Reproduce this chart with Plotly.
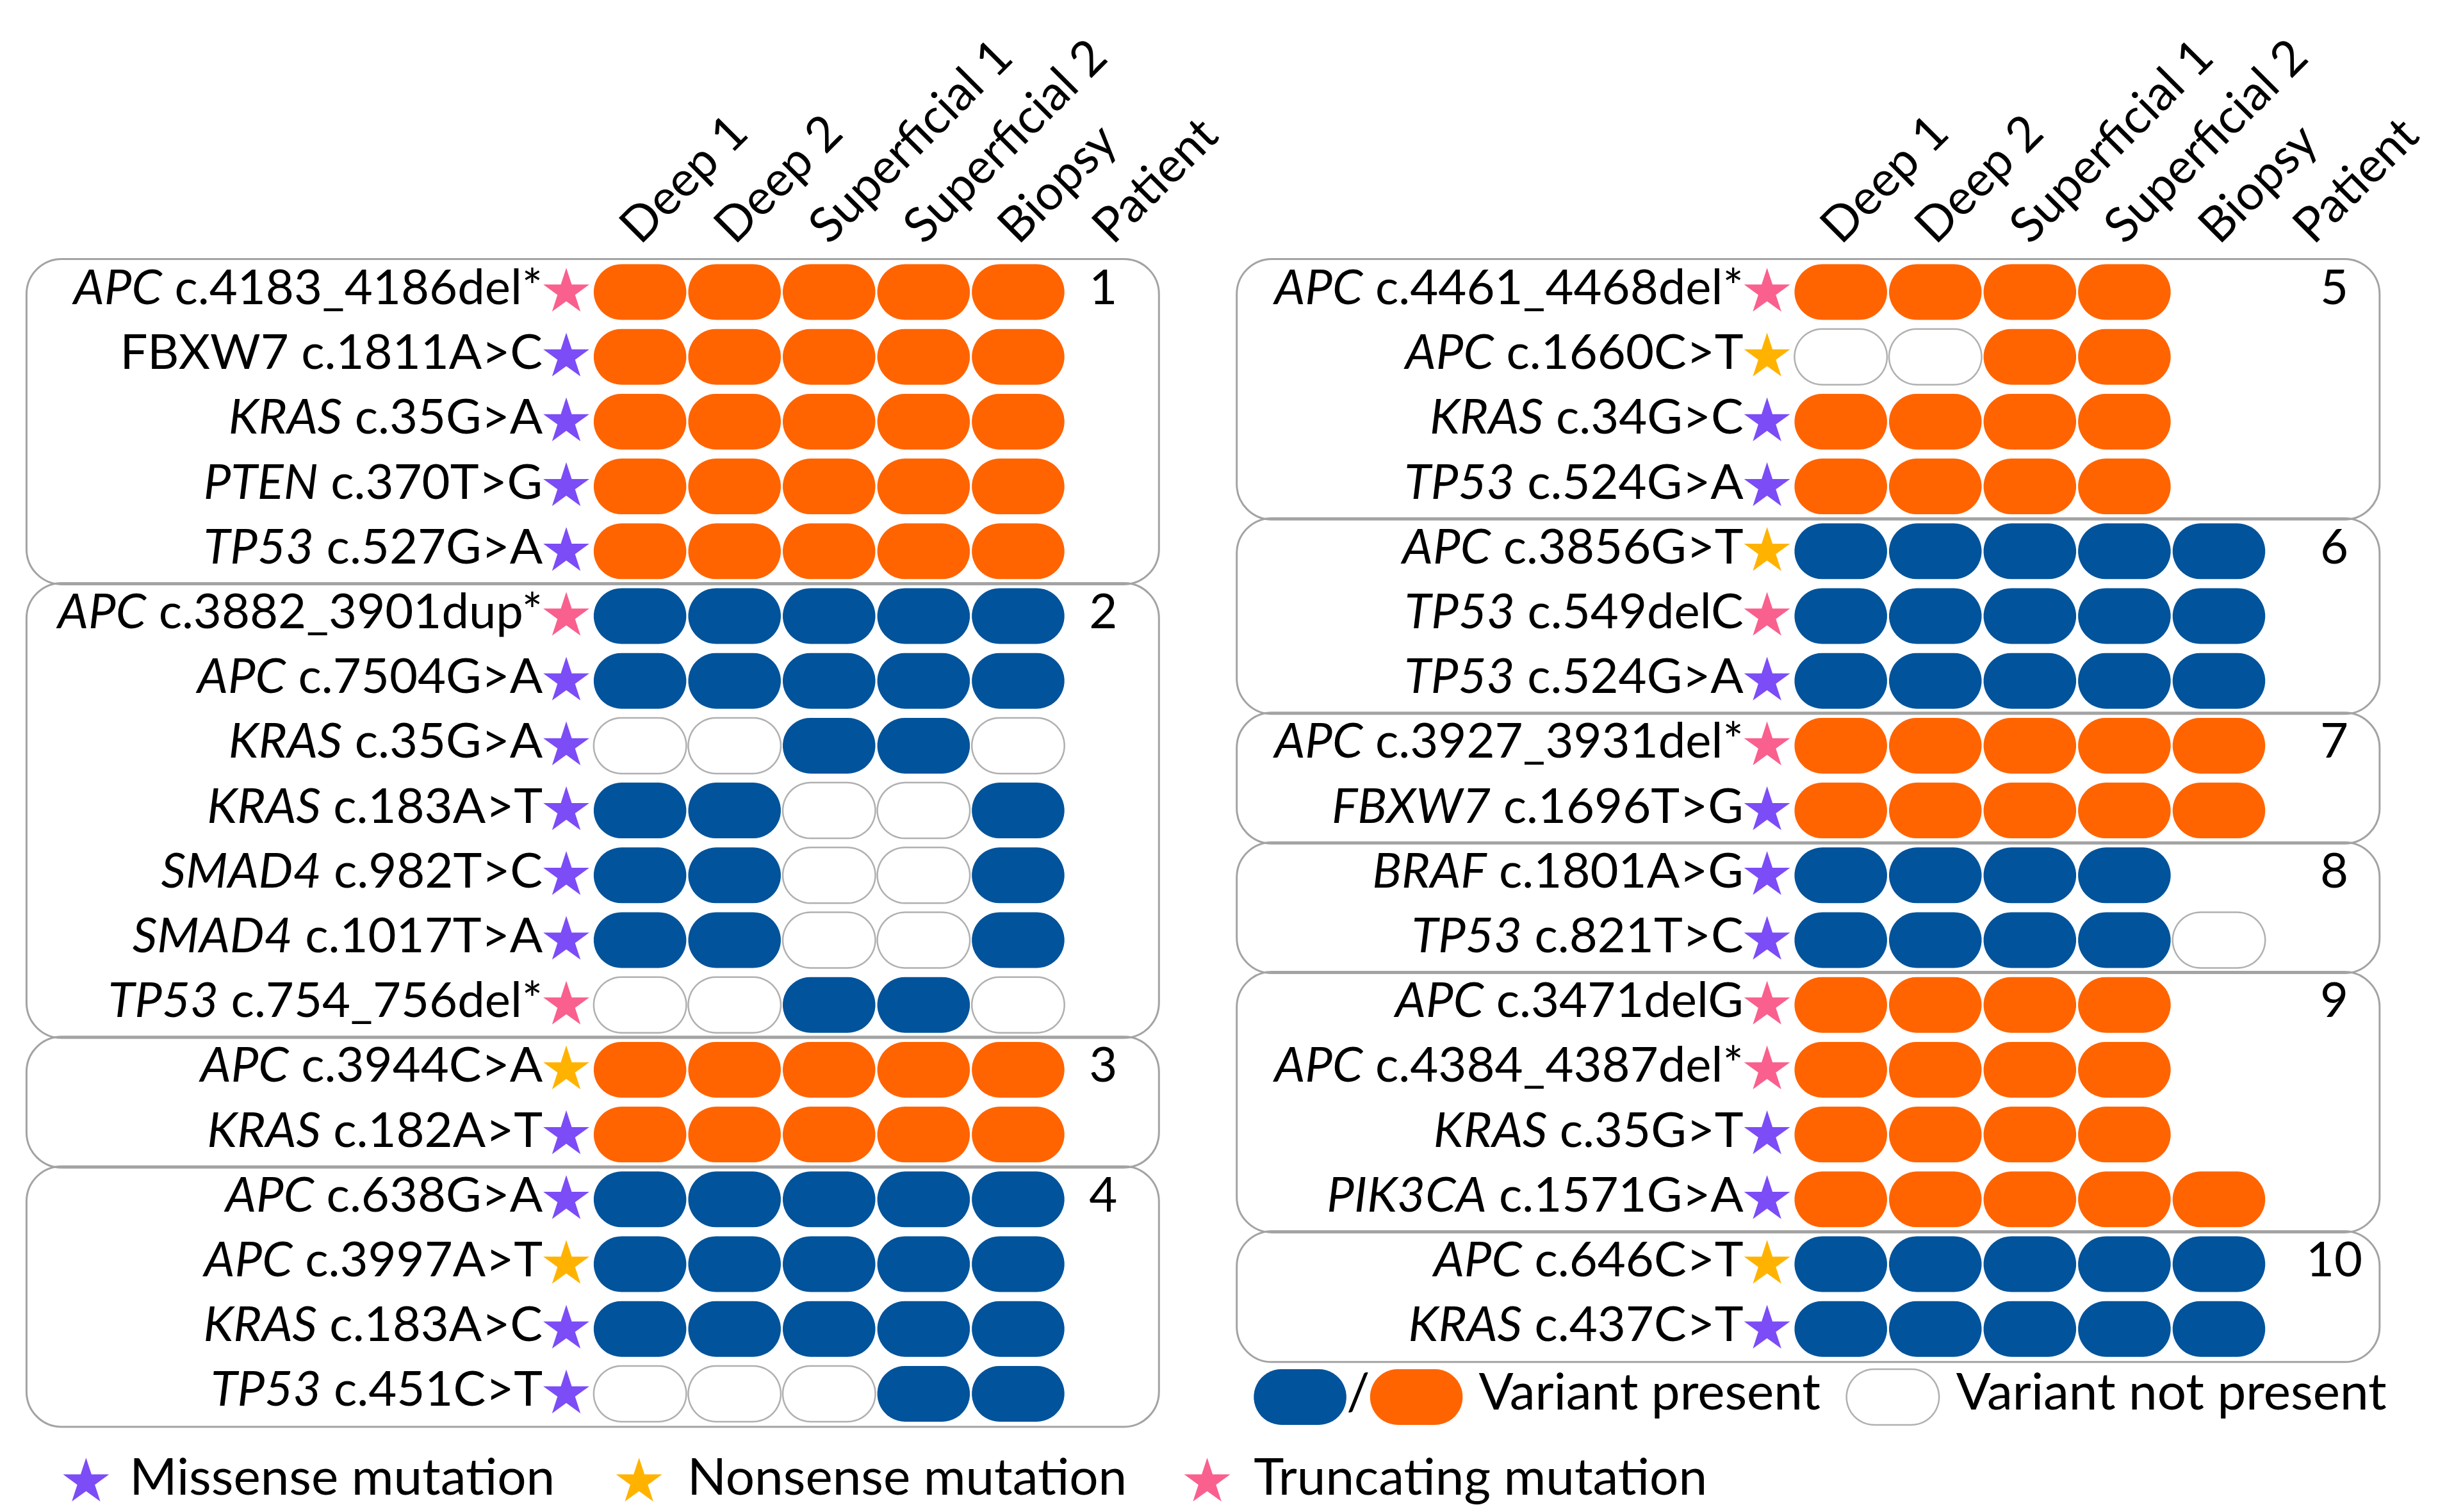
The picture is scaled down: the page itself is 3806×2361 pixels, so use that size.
import numpy as np
import plotly.graph_objects as go

# ---------------- data ----------------
COLUMNS = ["Deep 1", "Deep 2", "Superficial 1", "Superficial 2", "Biopsy", "Patient"]

left_gene = ["APC", "FBXW7", "KRAS", "PTEN", "TP53",
             "APC", "APC", "KRAS", "KRAS", "SMAD4", "SMAD4", "TP53",
             "APC", "KRAS",
             "APC", "APC", "KRAS", "TP53"]
left_change = ["c.4183_4186del*", "c.1811A>C", "c.35G>A", "c.370T>G", "c.527G>A",
               "c.3882_3901dup*", "c.7504G>A", "c.35G>A", "c.183A>T", "c.982T>C", "c.1017T>A", "c.754_756del*",
               "c.3944C>A", "c.182A>T",
               "c.638G>A", "c.3997A>T", "c.183A>C", "c.451C>T"]
left_italic = [True, False, True, True, True,
               True, True, True, True, True, True, True,
               True, True,
               True, True, True, True]
left_type = ["Truncating", "Missense", "Missense", "Missense", "Missense",
             "Truncating", "Missense", "Missense", "Missense", "Missense", "Missense", "Truncating",
             "Nonsense", "Missense",
             "Missense", "Nonsense", "Missense", "Missense"]
# P = variant present, N = variant not present, - = no sample
left_calls = ["PPPPP", "PPPPP", "PPPPP", "PPPPP", "PPPPP",
              "PPPPP", "PPPPP", "NNPPN", "PPNNP", "PPNNP", "PPNNP", "NNPPN",
              "PPPPP", "PPPPP",
              "PPPPP", "PPPPP", "PPPPP", "NNNPP"]
left_patient = [1, 1, 1, 1, 1,
                2, 2, 2, 2, 2, 2, 2,
                3, 3,
                4, 4, 4, 4]

right_gene = ["APC", "APC", "KRAS", "TP53",
              "APC", "TP53", "TP53",
              "APC", "FBXW7",
              "BRAF", "TP53",
              "APC", "APC", "KRAS", "PIK3CA",
              "APC", "KRAS"]
right_change = ["c.4461_4468del*", "c.1660C>T", "c.34G>C", "c.524G>A",
                "c.3856G>T", "c.549delC", "c.524G>A",
                "c.3927_3931del*", "c.1696T>G",
                "c.1801A>G", "c.821T>C",
                "c.3471delG", "c.4384_4387del*", "c.35G>T", "c.1571G>A",
                "c.646C>T", "c.437C>T"]
right_italic = [True] * 17
right_type = ["Truncating", "Nonsense", "Missense", "Missense",
              "Nonsense", "Truncating", "Missense",
              "Truncating", "Missense",
              "Missense", "Missense",
              "Truncating", "Truncating", "Missense", "Missense",
              "Nonsense", "Missense"]
right_calls = ["PPPP-", "NNPP-", "PPPP-", "PPPP-",
               "PPPPP", "PPPPP", "PPPPP",
               "PPPPP", "PPPPP",
               "PPPP-", "PPPPN",
               "PPPP-", "PPPP-", "PPPP-", "PPPPP",
               "PPPPP", "PPPPP"]
right_patient = [5, 5, 5, 5,
                 6, 6, 6,
                 7, 7,
                 8, 8,
                 9, 9, 9, 9,
                 10, 10]

MUTATION_TYPES = ["Missense", "Nonsense", "Truncating"]
LEGEND_MUT_TEXT = ["Missense mutation", "Nonsense mutation", "Truncating mutation"]
LEGEND_CALL_TEXT = ["Variant present", "Variant not present"]

# ---------------- style ----------------
ORANGE = "#FF6400"
BLUE = "#01539B"
EMPTY_LINE = "#B0B0B0"
STAR_COL = {"Missense": "#7C4CF6", "Nonsense": "#FFB300", "Truncating": "#F9608E"}
FONT = "Lato"
FS = 76
FS_LEG = 80
BOX_LINE = "#A3A3A3"
STAR_SIZE = 54

W, H = 3806, 2361
ROW0_PX, ROW_PX = 448.0, 101.2
COL_PX = 148.0
PANEL = {
    "left": dict(col0=994.0, dom=(0.0, 0.5), box=(-6.49, 5.49), num_x=4.9),
    "right": dict(col0=2874.0, dom=(0.5, 1.0), box=(-6.39, 5.70), num_x=5.22),
}
STAR_DX = -0.78
LABEL_DX = -1.03
PILL_HW, PILL_HH, PILL_R = 0.49, 0.43, 0.294
HEADER_DX = -0.18


def patient_colour(p):
    return ORANGE if p % 2 == 1 else BLUE


def pill_xy(cx, cy):
    xs, ys = [], []
    for t in np.linspace(-np.pi / 2, np.pi / 2, 24):
        xs.append(cx + PILL_HW - PILL_R + PILL_R * np.cos(t))
        ys.append(cy + PILL_HH * np.sin(t))
    for t in np.linspace(np.pi / 2, 3 * np.pi / 2, 24):
        xs.append(cx - PILL_HW + PILL_R + PILL_R * np.cos(t))
        ys.append(cy + PILL_HH * np.sin(t))
    xs.append(xs[0]); ys.append(ys[0])
    xs.append(None); ys.append(None)
    return xs, ys


def rrect_path(x0, x1, y0, y1, rx, ry):
    k = 0.5523
    return (f"M {x0+rx},{y0} L {x1-rx},{y0} "
            f"C {x1-rx+k*rx},{y0} {x1},{y0+ry-k*ry} {x1},{y0+ry} "
            f"L {x1},{y1-ry} "
            f"C {x1},{y1-ry+k*ry} {x1-rx+k*rx},{y1} {x1-rx},{y1} "
            f"L {x0+rx},{y1} "
            f"C {x0+rx-k*rx},{y1} {x0},{y1-ry+k*ry} {x0},{y1-ry} "
            f"L {x0},{y0+ry} "
            f"C {x0},{y0+ry-k*ry} {x0+rx-k*rx},{y0} {x0+rx},{y0} Z")


fig = go.Figure()
shapes = []


def add_panel(name, genes, changes, italic, types, calls, patients, xa, ya):
    cfg = PANEL[name]
    rows = list(range(len(genes)))
    # group boxes
    groups = []
    for r, p in zip(rows, patients):
        if groups and groups[-1][0] == p:
            groups[-1][2] = r
        else:
            groups.append([p, r, r])
    bx0, bx1 = cfg["box"]
    rx, ry = 55 / COL_PX, 55 / ROW_PX
    for p, r0, r1 in groups:
        shapes.append(dict(type="path", xref=xa, yref=ya, layer="below",
                           path=rrect_path(bx0, bx1, r0 - 0.51, r1 + 0.51, rx, ry),
                           line=dict(color=BOX_LINE, width=3), fillcolor="rgba(0,0,0,0)"))
    # pills
    fills = {ORANGE: ([], []), BLUE: ([], []), "empty": ([], [])}
    for r, call, p in zip(rows, calls, patients):
        for c, s in enumerate(call):
            if s == "-":
                continue
            key = patient_colour(p) if s == "P" else "empty"
            xs, ys = pill_xy(c, r)
            fills[key][0].extend(xs); fills[key][1].extend(ys)
    for key, (xs, ys) in fills.items():
        if not xs:
            continue
        if key == "empty":
            fig.add_trace(go.Scatter(x=xs, y=ys, mode="lines", fill="toself", fillcolor="white",
                                     line=dict(color=EMPTY_LINE, width=2.5), xaxis=xa, yaxis=ya,
                                     hoverinfo="skip", showlegend=False))
        else:
            fig.add_trace(go.Scatter(x=xs, y=ys, mode="lines", fill="toself", fillcolor=key,
                                     line=dict(color=key, width=0), xaxis=xa, yaxis=ya,
                                     hoverinfo="skip", showlegend=False))
    # stars
    for t in MUTATION_TYPES:
        rr = [r for r, ty in zip(rows, types) if ty == t]
        fig.add_trace(go.Scatter(x=[STAR_DX] * len(rr), y=rr, mode="markers",
                                 marker=dict(symbol="star", size=STAR_SIZE, color=STAR_COL[t], line=dict(width=0)),
                                 xaxis=xa, yaxis=ya, hoverinfo="skip", showlegend=False, cliponaxis=False))
    # labels
    labels = [(f"<i>{g}</i> {ch}" if it else f"{g} {ch}") for g, ch, it in zip(genes, changes, italic)]
    fig.add_trace(go.Scatter(x=[LABEL_DX] * len(rows), y=rows, mode="text", text=labels,
                             textposition="middle left", textfont=dict(family=FONT, size=FS, color="black"),
                             xaxis=xa, yaxis=ya, hoverinfo="skip", showlegend=False, cliponaxis=False))
    # patient numbers
    fig.add_trace(go.Scatter(x=[cfg["num_x"]] * len(groups), y=[g[1] for g in groups], mode="text",
                             text=[str(g[0]) for g in groups], textposition="middle center",
                             textfont=dict(family=FONT, size=FS, color="black"),
                             xaxis=xa, yaxis=ya, hoverinfo="skip", showlegend=False, cliponaxis=False))


add_panel("left", left_gene, left_change, left_italic, left_type, left_calls, left_patient, "x", "y")
add_panel("right", right_gene, right_change, right_italic, right_type, right_calls, right_patient, "x2", "y2")

# legend: variant present / not present (right panel, below the groups)
LEG_Y = 17.05
for key, cx in [(BLUE, -5.72), (ORANGE, -4.49)]:
    xs, ys = pill_xy(cx, LEG_Y)
    fig.add_trace(go.Scatter(x=xs, y=ys, mode="lines", fill="toself", fillcolor=key,
                             line=dict(color=key, width=0), xaxis="x2", yaxis="y2",
                             hoverinfo="skip", showlegend=False))
xs, ys = pill_xy(0.55, LEG_Y)
fig.add_trace(go.Scatter(x=xs, y=ys, mode="lines", fill="toself", fillcolor="white",
                         line=dict(color=EMPTY_LINE, width=2.5), xaxis="x2", yaxis="y2",
                         hoverinfo="skip", showlegend=False))
fig.add_trace(go.Scatter(x=[-5.105, -3.83, 1.22], y=[LEG_Y] * 3, mode="text",
                         text=["/", LEGEND_CALL_TEXT[0], LEGEND_CALL_TEXT[1]],
                         textposition=["middle center", "middle right", "middle right"],
                         textfont=dict(family=FONT, size=FS_LEG, color="black"),
                         xaxis="x2", yaxis="y2", hoverinfo="skip", showlegend=False, cliponaxis=False))

# legend: mutation types (bottom row)
MUT_Y = 18.36
# (star x, text x, star axis, text axis) per legend item
mut_leg_pos = [(-5.86, -5.40, "x", "x"), (-0.01, 0.50, "x", "x"), (6.0, -6.21, "x", "x2")]
for t, label, (sx, tx, sa, ta) in zip(MUTATION_TYPES, LEGEND_MUT_TEXT, mut_leg_pos):
    fig.add_trace(go.Scatter(x=[sx], y=[MUT_Y], mode="markers",
                             marker=dict(symbol="star", size=STAR_SIZE, color=STAR_COL[t], line=dict(width=0)),
                             xaxis=sa, yaxis="y" if sa == "x" else "y2",
                             hoverinfo="skip", showlegend=False, cliponaxis=False))
    fig.add_trace(go.Scatter(x=[tx], y=[MUT_Y], mode="text", text=[label],
                             textposition="middle right", textfont=dict(family=FONT, size=FS_LEG, color="black"),
                             xaxis=ta, yaxis="y" if ta == "x" else "y2",
                             hoverinfo="skip", showlegend=False, cliponaxis=False))


def xrange_for(cfg):
    d0, d1 = cfg["dom"]
    return [(d0 * W - cfg["col0"]) / COL_PX, (d1 * W - cfg["col0"]) / COL_PX]


yr = [(H - ROW0_PX) / ROW_PX, (0 - ROW0_PX) / ROW_PX]
axis_pos = 1 - 402 / H
xcommon = dict(side="top", anchor="free", position=axis_pos, tickmode="array",
               tickvals=[i + HEADER_DX for i in range(len(COLUMNS))], ticktext=COLUMNS, tickangle=-45,
               showgrid=False, zeroline=False, showline=False, ticks="",
               tickfont=dict(family=FONT, size=FS, color="black"), fixedrange=True)
ycommon = dict(range=yr, visible=False, showgrid=False, zeroline=False, domain=[0, 1], fixedrange=True)

fig.update_layout(
    width=W, height=H, margin=dict(l=0, r=0, t=0, b=0),
    paper_bgcolor="white", plot_bgcolor="white",
    xaxis=dict(domain=list(PANEL["left"]["dom"]), range=xrange_for(PANEL["left"]), **xcommon),
    xaxis2=dict(domain=list(PANEL["right"]["dom"]), range=xrange_for(PANEL["right"]), **xcommon),
    yaxis=dict(anchor="x", **ycommon),
    yaxis2=dict(anchor="x2", **ycommon),
    shapes=shapes,
    showlegend=False,
)

fig.write_html("out.html")
